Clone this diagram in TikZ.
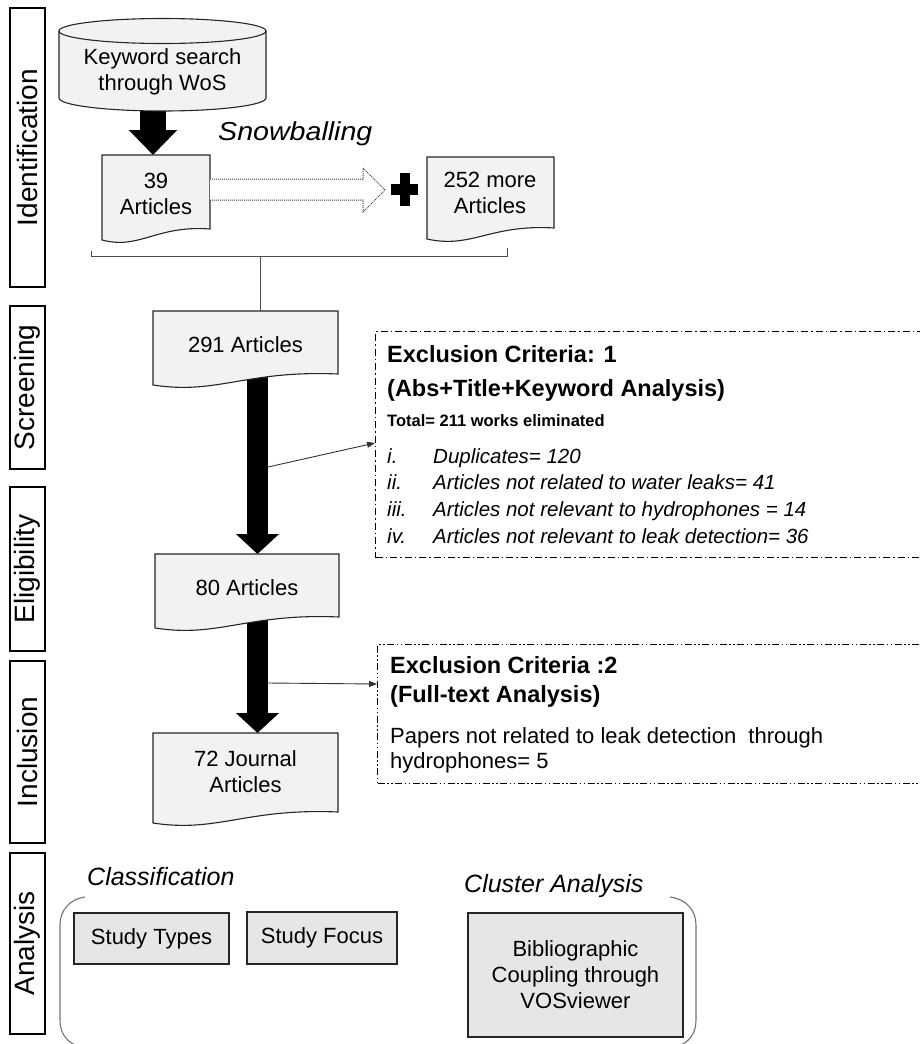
\documentclass[tikz,border=0pt]{standalone}
\usepackage{fontspec}
\setmainfont{Liberation Sans}
\usetikzlibrary{arrows.meta}
\pgfdeclarelayer{bg}
\pgfsetlayers{bg,main}
\definecolor{docfill}{HTML}{F2F2F2}
\definecolor{boxfill}{HTML}{E6E6E6}
\definecolor{edge}{HTML}{262626}
\newcommand{\fsz}[1]{\fontsize{#1}{26}\selectfont}
\newcommand{\docshape}[4]{% L R T Bl
 \path[docstyle] (#1,#3) -- (#2,#3) -- (#2,{#4-11}) .. controls ({#1+0.5*(#2-#1)},{#4-15}) and ({#1+0.35*(#2-#1)},{#4+10}) .. (#1,#4) -- cycle;
}
\begin{document}
\begin{tikzpicture}[x=1pt,y=-1pt,
  docstyle/.style={draw=edge, line width=1.1pt, fill=docfill},
  lblbox/.style={draw=black, line width=1.4pt, rotate=90, inner sep=0, font=\fsz{28}},
  body/.style={font=\fsz{22}, align=center, inner sep=0},
  stbox/.style={draw=edge, line width=1.4pt, fill=boxfill, inner sep=0, font=\fsz{22}, align=center},
  thick1/.style={line width=26pt, -{Triangle[width=47pt,length=25pt]}},
  thick2/.style={line width=21pt, -{Triangle[width=42pt,length=20pt]}},
  thin/.style={draw=black!80, line width=0.9pt, -{Triangle[width=6pt,length=8pt]}},
  exc1/.style={draw=black, line width=1.1pt, dash pattern=on 7pt off 3pt on 1.5pt off 3pt, inner sep=0, anchor=north west},
  exc2/.style={draw=black, line width=1.1pt, dash pattern=on 7pt off 2.5pt on 1.5pt off 2.5pt on 1.5pt off 2.5pt, inner sep=0, anchor=north west},
  bold/.style={font=\bfseries\fsz{23.5}, anchor=base west, inner sep=0},
  itl/.style={font=\itshape\fsz{20.5}, anchor=base west, inner sep=0},
  brk/.style={draw=black!55, line width=1.1pt},
]
\useasboundingbox (0,0) rectangle (920,1044);

% coordinates for connectors
\coordinate (kwb) at (153,100);
\coordinate (d39t) at (153,155);
\coordinate (d291b) at (257.5,372);
\coordinate (d80t) at (257.5,554);
\coordinate (d80b) at (257.5,612);
\coordinate (d72t) at (257.5,733);

\begin{pgfonlayer}{bg}
  \draw[thick1] (kwb) -- (d39t);
  \draw[thick2] (d291b) -- (d80t);
  \draw[thick2] (d80b) -- (d72t);
  % cylinder
  \path[docstyle] (59,31) -- (59,98) arc[start angle=180,end angle=0,x radius=103.5,y radius=13] -- (266,31) arc[start angle=0,end angle=-180,x radius=103.5,y radius=12.5] -- cycle;
  \draw[draw=edge, line width=1.1pt] (59,31) arc[start angle=180,end angle=0,x radius=103.5,y radius=12.5];
  % documents
  \docshape{102}{210}{155}{240}
  \docshape{427}{554}{157}{239}
  \docshape{153}{338}{311}{385}
  \docshape{155}{339}{554}{628}
  \docshape{153}{338}{733}{823}
\end{pgfonlayer}

% stage labels
\node[lblbox, minimum width=279, minimum height=35] (lid) at (27.5,147.5) {Identification};
\node[lblbox, minimum width=163, minimum height=35] (lsc) at (27.5,387.5) {Screening};
\node[lblbox, minimum width=164, minimum height=35] (lel) at (27.5,569) {Eligibility};
\node[lblbox, minimum width=182, minimum height=35] (lin) at (27.5,752) {Inclusion};
\node[lblbox, minimum width=181, minimum height=35] (lan) at (27.5,943.5) {Analysis};

% texts of shapes
\node[body] (kw) at (162.5,71.8) {Keyword search\\through WoS};
\node[body] (t39) at (156,194.3) {39\\Articles};
\node[body] (t252) at (490,192.7) {252 more\\Articles};
\node[body, anchor=base] (t291) at (245.5,352) {291 Articles};
\node[body, anchor=base] (t80) at (247,595) {80 Articles};
\node[body] (t72) at (245.5,772) {72 Journal\\Articles};

\node[font=\itshape\fsz{26}, anchor=base west, inner sep=0] (snow) at (218,140) {\scalebox{1.1}[1]{Snowballing}};

% snowballing hollow dotted arrow
\draw[draw=black!75, line width=1pt, densely dotted, fill=white]
  (210,179) -- (363,179) -- (363,168) -- (385,190) -- (363,212) -- (363,200) -- (210,200);
% plus sign
\fill[black] (391,184) rectangle (418,195);
\fill[black] (399.5,173) rectangle (409.5,206);

% bracket joining 39 and 252
\coordinate (bl) at (91,251);
\coordinate (br) at (507,248);
\coordinate (bm) at (260,256);
\coordinate (d291t) at (260,311);
\draw[draw=black!70, line width=1pt] (bl) -- (91,256) -- (507,256) -- (br);
\draw[draw=black!70, line width=1pt] (bm) -- (d291t);

% exclusion boxes
\node[exc1, minimum width=560, minimum height=226] (ex1) at (375,331) {};
\node[exc2, minimum width=560, minimum height=139] (ex2) at (377,644) {};

\coordinate (s1) at (268,467);
\coordinate (e1) at (375,443);
\coordinate (s2) at (268,683);
\coordinate (e2) at (377,684);
\draw[thin] (s1) -- (e1);
\draw[thin] (s2) -- (e2);

\node[bold] (h1a) at (387,362) {Exclusion Criteria: 1};
\node[bold] (h1b) at (387,396) {(Abs+Title+Keyword Analysis)};
\node[font=\bfseries\fsz{16.5}, anchor=base west, inner sep=0] (tot) at (387,426) {Total= 211 works eliminated};
\node[itl] (n1) at (387,463) {i.};
\node[itl] (i1) at (433,463) {Duplicates= 120};
\node[itl] (n2) at (387,489) {ii.};
\node[itl] (i2) at (433,489) {Articles not related to water leaks= 41};
\node[itl] (n3) at (387,516) {iii.};
\node[itl] (i3) at (433,516) {Articles not relevant to hydrophones = 14};
\node[itl] (n4) at (387,543) {iv.};
\node[itl] (i4) at (433,543) {Articles not relevant to leak detection= 36};

\node[bold] (h2a) at (390,673) {Exclusion Criteria :2};
\node[bold] (h2b) at (390,702) {(Full-text Analysis)};
\node[font=\fsz{22}, anchor=base west, inner sep=0] (p2a) at (390,743) {Papers not related to leak detection\ \ through};
\node[font=\fsz{22}, anchor=base west, inner sep=0] (p2b) at (390,768) {hydrophones= 5};

% analysis
\node[font=\itshape\fsz{25}, anchor=base west, inner sep=0] (cls) at (87,885) {Classification};
\node[font=\itshape\fsz{25}, anchor=base west, inner sep=0] (clu) at (464,892) {Cluster Analysis};
\draw[brk] (85,897) .. controls (70,899) and (60,910) .. (60,925) -- (60,1020) .. controls (60,1035) and (68,1043) .. (80,1047);
\draw[brk] (670,897) .. controls (686,899) and (696,910) .. (696,925) -- (696,1020) .. controls (696,1035) and (688,1043) .. (676,1047);
\node[stbox, minimum width=155, minimum height=51] (sty) at (151.5,938.5) {Study Types};
\node[stbox, minimum width=150, minimum height=52] (stf) at (322,938) {Study Focus};
\node[stbox, minimum width=215, minimum height=124] (bib) at (575.5,975) {Bibliographic\\Coupling through\\VOSviewer};
\end{tikzpicture}
\end{document}
